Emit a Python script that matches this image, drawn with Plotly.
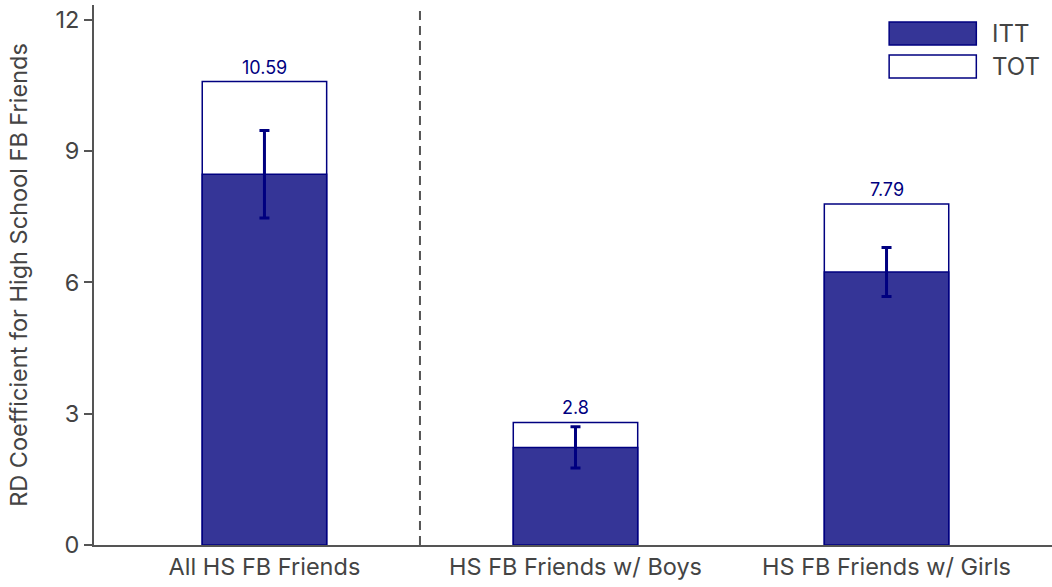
import plotly.graph_objects as go

categories = ["All HS FB Friends", "HS FB Friends w/ Boys", "HS FB Friends w/ Girls"]
itt_values = [8.47, 2.23, 6.24]
itt_errors = [1.0, 0.47, 0.56]
tot_values = [10.59, 2.80, 7.79]
tot_labels = ["10.59", "2.8", "7.79"]
y_ticks = [0, 3, 6, 9, 12]

NAVY = "#000080"
FILL = "#353597"
GREY = "#555555"
FONT = "Inter, Liberation Sans, Arial, sans-serif"
FS = 23.5

xpos = list(range(len(categories)))

fig = go.Figure()
fig.add_trace(go.Bar(
    x=xpos, y=tot_values, width=0.4, name="TOT",
    marker=dict(color="white", line=dict(color=NAVY, width=1.5)),
    showlegend=False,
))
fig.add_trace(go.Bar(
    x=xpos, y=itt_values, width=0.4, name="ITT",
    marker=dict(color=FILL, line=dict(color=NAVY, width=1.5)),
    error_y=dict(type="data", array=itt_errors, visible=True,
                 color=NAVY, thickness=3, width=5),
    showlegend=False,
))

for xi, v, lab in zip(xpos, tot_values, tot_labels):
    fig.add_annotation(x=xi, y=v, text=lab, showarrow=False, yanchor="bottom",
                       yshift=2, font=dict(size=18, color=NAVY, family=FONT))

# dashed separator
fig.add_shape(type="line", x0=0.5, x1=0.5, xref="x", y0=0, y1=1, yref="paper",
              line=dict(color=GREY, width=2, dash="9px,6px"))

# manual legend
for (name, fill, y0, y1) in [("ITT", FILL, 0.926, 0.9685), ("TOT", "white", 0.8648, 0.9074)]:
    fig.add_shape(type="rect", xref="paper", yref="paper", x0=0.830, x1=0.921,
                  y0=y0, y1=y1, fillcolor=fill, line=dict(color=NAVY, width=1.5))
    fig.add_annotation(xref="paper", yref="paper", x=0.935, y=(y0 + y1) / 2,
                       text=name, showarrow=False, xanchor="left", yanchor="middle",
                       font=dict(size=24, color="#444444", family=FONT))

fig.update_layout(
    width=1052, height=587,
    margin=dict(l=94, r=0, t=5, b=42),
    plot_bgcolor="white", paper_bgcolor="white",
    barmode="overlay",
    font=dict(family=FONT, color="#444444", size=FS),
    xaxis=dict(range=[-0.548, 2.532], tickvals=xpos, ticktext=categories,
               showgrid=False, zeroline=False, showline=True, linecolor=GREY,
               linewidth=2, ticks="", tickfont=dict(size=FS)),
    yaxis=dict(range=[0, 12.34], tickvals=y_ticks, showgrid=False, zeroline=False,
               showline=True, linecolor=GREY, linewidth=2, ticks="outside",
               ticklen=8, tickwidth=2, tickcolor=GREY, tickfont=dict(size=FS),
               title=dict(text="RD Coefficient for High School FB Friends",
                          font=dict(size=FS), standoff=21)),
)

fig.write_html("out.html")
